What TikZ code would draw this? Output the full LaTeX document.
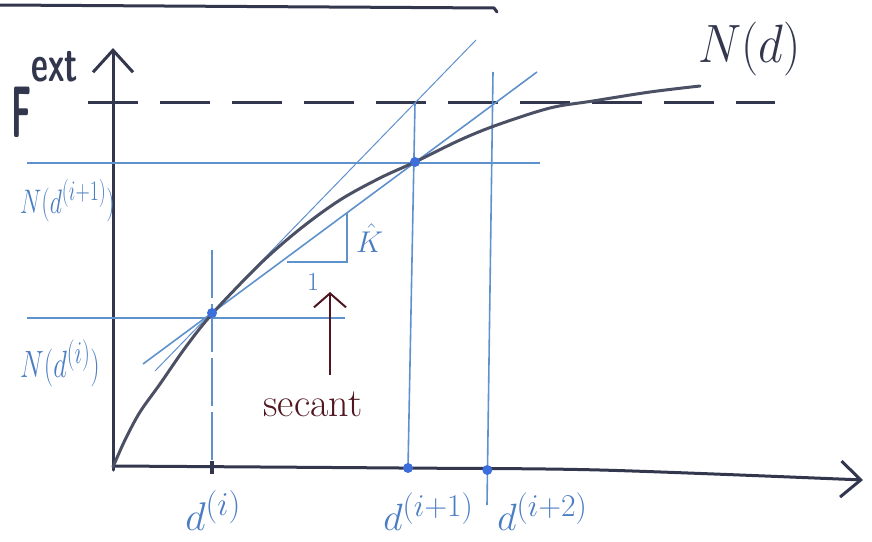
\documentclass[tikz,border=0pt]{standalone}
\usetikzlibrary{arrows.meta}
\definecolor{inkdark}{RGB}{50,55,78}
\definecolor{curvegray}{RGB}{75,80,100}
\definecolor{lineblue}{RGB}{95,145,205}
\definecolor{dotblue}{RGB}{60,110,220}
\definecolor{textblue}{RGB}{75,125,195}
\definecolor{maroon}{RGB}{80,22,32}
\begin{document}
\begin{tikzpicture}[x=1pt,y=-1pt,
  darkline/.style={draw=inkdark,line width=3pt,line cap=round},
  curveline/.style={draw=curvegray,line width=3pt,line cap=round},
  blueline/.style={draw=lineblue,line width=1.6pt},
  thinblue/.style={draw=lineblue,line width=1pt},
  bluedot/.style={circle,fill=dotblue,inner sep=0pt,minimum size=10pt},
  sz/.style={font=\Huge,inner sep=0pt,scale=#1/24.88},
  bluelabel/.style={text=textblue},
  barb/.style={-{Straight Barb[length=22pt,width=40pt]}}]
\useasboundingbox (0,0) rectangle (872,541);
% frame line at top
\draw[darkline] (0,5) -- (494,8) -- (497,12);
% key points
\coordinate (O) at (113,467);
\coordinate (P1) at (212,313);
\coordinate (P2) at (415,162);
% axes
\draw[darkline,barb] (113,470) -- (113,48) coordinate (ytip);
\draw[darkline,-{Straight Barb[length=20pt,width=36pt]}] plot[smooth] coordinates {(113,466) (400,468) (600,470) (863,480)};
% F ext dashed level
\draw[darkline,line cap=butt,dash pattern=on 50pt off 22pt] (88,102) -- (775,102);
% blue helper lines
\draw[blueline] (27,163) -- (540,163);
\draw[blueline] (27,318) -- (345,318);
\draw[blueline,dash pattern=on 48pt off 6pt] (212,250) -- (212,466);
\draw[blueline] (415,103) -- (408,468) coordinate (Q1);
\draw[blueline] (493,72) -- (487,505);
\coordinate (Q2) at (487.3,470);
% tangent and secant
\draw[thinblue] (155,371) -- (476,40);
\draw[blueline] (143,364) -- (537,72);
% slope triangle
\draw[blueline] (287,262) -- (347,262) -- (347,213);
% curve N(d)
\draw[curveline] plot[smooth,tension=0.55] coordinates {(113,467) (125,440) (140,412) (160,384) (185,348) (212,314) (260,264) (300,229) (340,200) (380,178) (415,162) (460,140) (497,125) (550,108) (593,101) (650,92) (700,86)};
% tick at d(i)
\draw[draw=inkdark,line width=4pt] (212,461) -- (212,474);
% dots
\node[bluedot] (D1) at (P1) {};
\node[bluedot] (D2) at (P2) {};
\node[bluedot] (D3) at (Q1) {};
\node[bluedot] (D4) at (Q2) {};
% secant pointer
\node[sz=40,text=maroon,anchor=base] (sec) at (313,416) {secant};
\coordinate (arrtop) at (330,292);
\draw[draw=maroon,line width=2pt,-{Straight Barb[length=14pt,width=32pt]}] (330,375) -- (arrtop);
% labels
\node[sz=26,bluelabel,anchor=base] (one) at (313,290) {1};
\node[sz=30,bluelabel,anchor=base west] (kk) at (356,252) {$\hat{K}$};
\node[sz=34,xscale=0.7,bluelabel,anchor=base west] (lN2) at (20,213) {$N(d^{(i+1)})$};
\node[sz=38,xscale=0.7,bluelabel,anchor=base west] (lN1) at (20,377) {$N(d^{(i)})$};
\node[sz=40,bluelabel,anchor=base west] (ld1) at (185,530) {$d^{(i)}$};
\node[sz=38,bluelabel,anchor=base west] (ld2) at (383,530) {$d^{(i+1)}$};
\node[sz=38,bluelabel,anchor=base west] (ld3) at (497,530) {$d^{(i+2)}$};
\node[sz=54,xscale=0.9,text=inkdark,anchor=base west] (lNd) at (698,62) {$N(d)$};
\node[sz=73,xscale=0.45,text=inkdark,anchor=base west,font=\Huge\sffamily\bfseries] (lF) at (11,137) {F\raisebox{18.8pt}{\scalebox{1}[0.7]{ext}}};
\end{tikzpicture}
\end{document}
